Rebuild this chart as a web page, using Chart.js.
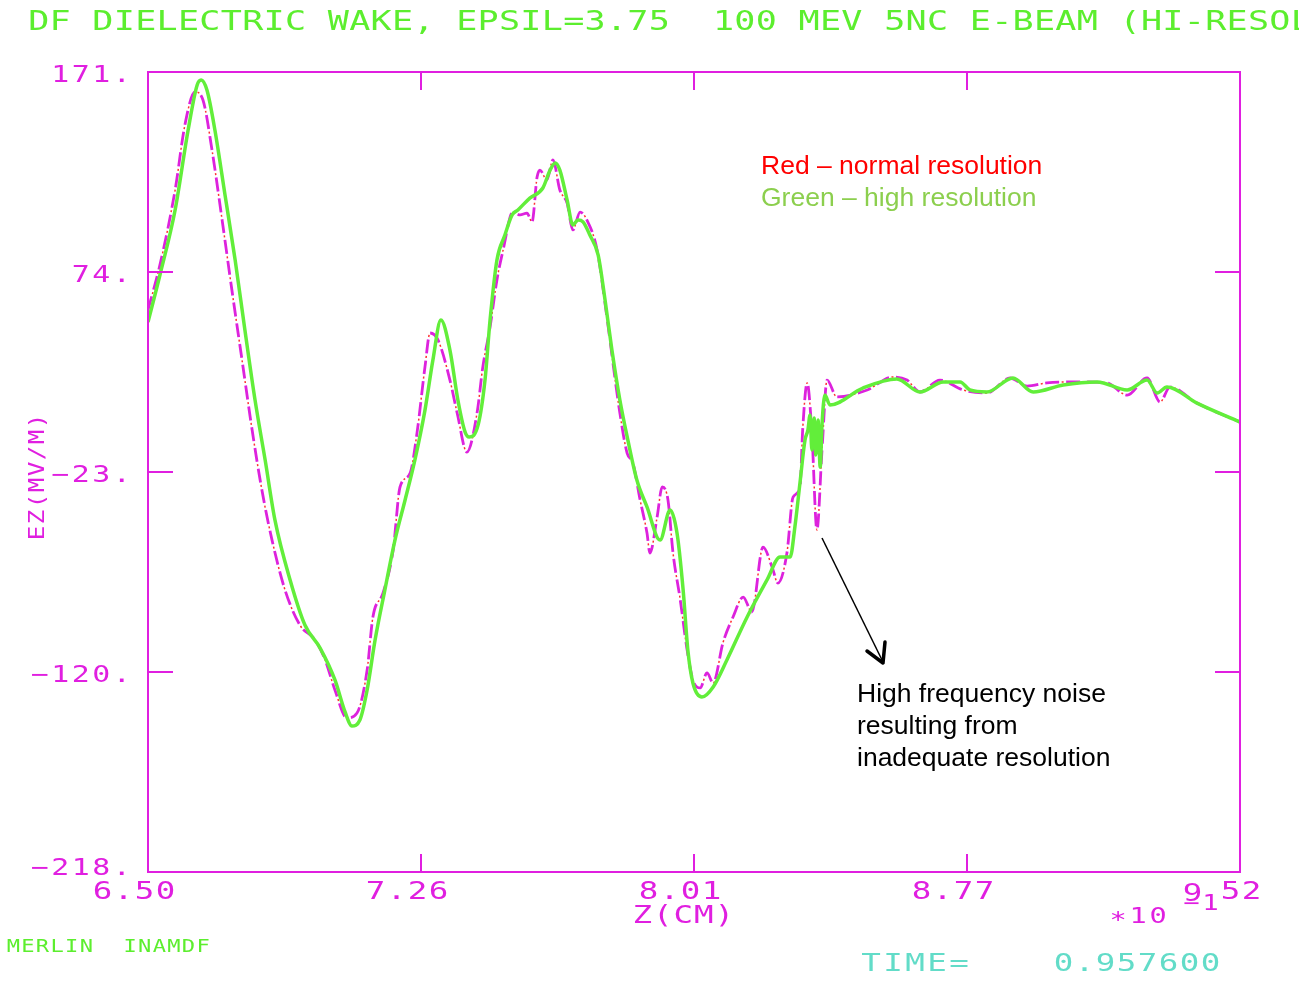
<!DOCTYPE html>
<html>
<head>
<meta charset="utf-8">
<title>DF dielectric wake</title>
<script src="https://cdn.jsdelivr.net/npm/chart.js@4"></script>
<style>
  html, body { margin: 0; padding: 0; background: #fff; }
  #wrap { width: 1299px; height: 981px; }
</style>
</head>
<body>
<div id="wrap"><canvas id="wake" width="1299" height="981"></canvas></div>
<script>
// high resolution run (green, solid)
const zHigh = [6.500, 6.533, 6.575, 6.611, 6.636, 6.647, 6.663, 6.685, 6.713, 6.741,
  6.768, 6.796, 6.824, 6.851, 6.893, 6.934, 6.976, 7.017, 7.045, 7.064,
  7.086, 7.106, 7.128, 7.155, 7.183, 7.211, 7.238, 7.266, 7.288, 7.310,
  7.335, 7.357, 7.377, 7.388, 7.413, 7.432, 7.446, 7.465, 7.487, 7.507,
  7.523, 7.556, 7.592, 7.612, 7.626, 7.639, 7.659, 7.675, 7.689, 7.703,
  7.722, 7.745, 7.764, 7.783, 7.805, 7.827, 7.852, 7.880, 7.916, 7.944,
  7.963, 7.980, 7.993, 8.007, 8.032, 8.063, 8.101, 8.157, 8.212, 8.248,
  8.276, 8.289, 8.303, 8.317, 8.325, 8.331, 8.336, 8.342, 8.347, 8.353,
  8.359, 8.364, 8.372, 8.386, 8.477, 8.571, 8.635, 8.699, 8.746, 8.773,
  8.820, 8.892, 8.948, 9.031, 9.125, 9.208, 9.263, 9.291, 9.318, 9.401, 9.520];
const ezHigh = [49.4, 72.3, 103.9, 142.8, 164.7, 167.1, 162.2, 142.8, 111.2, 79.6,
  45.5, 11.5, -17.7, -46.8, -76.0, -97.9, -109.1, -124.6, -140.2, -147.0,
  -144.1, -129.5, -105.2, -80.9, -56.6, -37.1, -17.7, 6.6, 31.0, 50.4,
  35.8, 11.5, -4.1, -6.5, -0.6, 21.2, 50.4, 79.6, 91.7, 101.5,
  103.9, 109.7, 114.6, 123.3, 126.8, 123.3, 108.8, 96.6, 99.0, 98.1,
  91.7, 82.0, 60.1, 35.8, 11.5, -7.9, -27.4, -40.5, -56.6, -42.0,
  -53.2, -80.9, -110.1, -126.1, -132.9, -128.0, -114.9, -94.0, -76.0, -64.8,
  -64.8, -50.2, -28.9, -7.9, -3.1, 4.2, -12.8, 2.8, -15.2, 1.8,
  -21.1, -0.6, 13.9, 9.1, 17.3, 21.7, 15.4, 20.3, 20.3, 16.4,
  15.4, 22.2, 15.4, 18.8, 20.3, 16.4, 21.2, 14.9, 17.8, 10.0, 0.8];

// normal resolution run (red / magenta dashed)
const zNormal = [6.500, 6.533, 6.575, 6.602, 6.630, 6.652, 6.677, 6.705, 6.732, 6.760,
  6.788, 6.815, 6.843, 6.879, 6.920, 6.962, 6.990, 7.017, 7.050, 7.078,
  7.106, 7.122, 7.150, 7.178, 7.197, 7.225, 7.244, 7.266, 7.280, 7.302,
  7.335, 7.355, 7.382, 7.410, 7.426, 7.446, 7.465, 7.482, 7.509, 7.529,
  7.548, 7.562, 7.576, 7.584, 7.603, 7.620, 7.639, 7.659, 7.675, 7.695,
  7.714, 7.742, 7.769, 7.805, 7.825, 7.841, 7.861, 7.880, 7.888, 7.908,
  7.922, 7.938, 7.952, 7.972, 7.991, 8.007, 8.027, 8.046, 8.063, 8.090,
  8.118, 8.146, 8.170, 8.201, 8.226, 8.242, 8.267, 8.284, 8.303, 8.311,
  8.323, 8.336, 8.350, 8.364, 8.378, 8.405, 8.489, 8.560, 8.599, 8.635,
  8.690, 8.754, 8.820, 8.884, 8.931, 8.986, 9.078, 9.152, 9.208, 9.263,
  9.299, 9.326, 9.401, 9.520];
const ezNormal = [55.3, 77.2, 113.6, 145.2, 161.3, 157.4, 133.1, 99.0, 65.0, 31.0,
  -3.1, -32.3, -56.6, -80.9, -97.9, -105.2, -114.9, -129.5, -143.1, -140.7,
  -119.8, -94.0, -82.3, -61.4, -30.8, -24.0, -4.5, 27.6, 44.1, 40.7,
  21.2, 5.2, -13.8, 5.2, 27.6, 47.0, 69.9, 84.4, 102.9, 101.5,
  102.4, 98.1, 119.9, 123.3, 118.5, 128.2, 113.6, 107.3, 94.2, 102.9,
  99.0, 84.4, 51.9, 5.2, -14.3, -19.1, -37.1, -53.2, -62.9, -45.4,
  -30.8, -37.1, -62.9, -85.7, -110.1, -124.6, -128.5, -121.2, -126.1, -106.6,
  -94.0, -84.3, -91.6, -60.0, -69.7, -77.5, -62.9, -35.7, -30.8, -1.6,
  19.8, -4.5, -51.7, -12.8, 21.2, 13.0, 16.4, 22.7, 21.2, 15.4,
  21.2, 16.4, 14.9, 22.2, 18.3, 19.8, 20.3, 19.8, 13.9, 22.2,
  10.5, 17.8, 10.0, 0.8];

const xTickVals = [6.50, 7.255, 8.01, 8.765, 9.52];
const xTickLabels = ["6.50", "7.26", "8.01", "8.77", "9.52"];
const yTickVals = [171, 73.75, -23.5, -120.75, -218];
const yTickLabels = ["171.", "74.", "\u221223.", "\u2212120.", "\u2212218."];

const titleText = "DF DIELECTRIC WAKE, EPSIL=3.75  100 MEV 5NC E-BEAM (HI-RESOLUTION)";
const legendLines = ["Red \u2013 normal resolution", "Green \u2013 high resolution"];
const noteLines = ["High frequency noise", "resulting from", "inadequate resolution"];

const MAGENTA = "#e01fe0";
const PLOT_FONT = "'DejaVu Sans Mono', monospace";

function pts(xs, ys) {
    return xs.map((x, i) => ({ x: x, y: ys[i] }));
}

// plotter style text: one stretched glyph per fixed-width cell
function plotterText(ctx, text, left, y, pitch, sx = 1.3) {
    ctx.textAlign = "center";
    for (let i = 0; i < text.length; i++) {
        ctx.save();
        ctx.translate(left + i * pitch + pitch / 2, y);
        ctx.scale(sx, 1);
        ctx.fillText(text[i], 0, 0);
        ctx.restore();
    }
}

const plotterFrame = {
    id: "plotterFrame",
    afterDraw(chart) {
        const ctx = chart.ctx;
        const a = chart.chartArea;
        const xs = chart.scales.x;
        const ys = chart.scales.y;
        ctx.save();

        // frame and inward ticks
        ctx.strokeStyle = MAGENTA;
        ctx.lineWidth = 2;
        ctx.strokeRect(a.left, a.top, a.right - a.left, a.bottom - a.top);
        ctx.beginPath();
        xTickVals.slice(1, -1).forEach(v => {
            const px = Math.round(xs.getPixelForValue(v));
            ctx.moveTo(px, a.top); ctx.lineTo(px, a.top + 18);
            ctx.moveTo(px, a.bottom); ctx.lineTo(px, a.bottom - 18);
        });
        yTickVals.slice(1, -1).forEach(v => {
            const py = Math.round(ys.getPixelForValue(v));
            ctx.moveTo(a.left, py); ctx.lineTo(a.left + 25, py);
            ctx.moveTo(a.right, py); ctx.lineTo(a.right - 25, py);
        });
        ctx.stroke();

        // tick labels
        ctx.fillStyle = MAGENTA;
        ctx.textBaseline = "middle";
        ctx.font = "23px " + PLOT_FONT;
        yTickLabels.forEach((t, i) => {
            const py = ys.getPixelForValue(yTickVals[i]);
            const dy = i === yTickVals.length - 1 ? -3 : 4;
            plotterText(ctx, t, 132 - t.length * 20.5, py + dy, 20.5);
        });
        ctx.font = "25px " + PLOT_FONT;
        xTickLabels.forEach((t, i) => {
            const px = xs.getPixelForValue(xTickVals[i]);
            if (i === xTickLabels.length - 1) {
                plotterText(ctx, "9", px - 58, a.bottom + 22, 21);
                plotterText(ctx, "52", px - 20, a.bottom + 20, 21);
            } else {
                plotterText(ctx, t, px - 56, a.bottom + 20, 21);
            }
        });
        // axis titles
        plotterText(ctx, "Z(CM)", 632, 916, 20.5);
        ctx.font = "22px " + PLOT_FONT;
        plotterText(ctx, "\u2217" + "10", 1108, 917, 20);
        ctx.font = "21px " + PLOT_FONT;
        plotterText(ctx, "\u22121", 1182, 905, 19);

        ctx.save();
        ctx.translate(38, 477);
        ctx.rotate(-Math.PI / 2);
        ctx.font = "22px " + PLOT_FONT;
        plotterText(ctx, "EZ(MV/M)", -64, 0, 16, 1.1);
        ctx.restore();

        // header and footer
        ctx.fillStyle = "#5cee2e";
        ctx.font = "27px " + PLOT_FONT;
        plotterText(ctx, titleText, 28, 23, 21.4);
        ctx.font = "17px " + PLOT_FONT;
        plotterText(ctx, "MERLIN  INAMDF", 6, 948, 14.6);
        ctx.fillStyle = "#62dcc8";
        ctx.font = "25px " + PLOT_FONT;
        plotterText(ctx, "TIME=", 860, 964, 22);
        plotterText(ctx, "0.957600", 1053, 964, 21);

        // annotations
        ctx.textAlign = "left";
        ctx.textBaseline = "alphabetic";
        ctx.font = "26.5px 'Liberation Sans', Arial, sans-serif";
        ctx.fillStyle = "#ff0000";
        ctx.fillText(legendLines[0], 761, 174);
        ctx.fillStyle = "#8ccf4e";
        ctx.fillText(legendLines[1], 761, 206);
        ctx.fillStyle = "#000";
        noteLines.forEach((t, i) => ctx.fillText(t, 857, 702 + i * 32));

        // arrow pointing at the noise
        ctx.strokeStyle = "#000";
        ctx.lineWidth = 1.5;
        ctx.beginPath();
        ctx.moveTo(822, 538);
        ctx.lineTo(883, 662);
        ctx.stroke();
        ctx.lineWidth = 3.5;
        ctx.lineCap = "round";
        ctx.lineJoin = "round";
        ctx.beginPath();
        ctx.moveTo(867, 651);
        ctx.lineTo(883, 663);
        ctx.lineTo(885, 642);
        ctx.stroke();

        ctx.restore();
    }
};

new Chart(document.getElementById("wake"), {
    type: "line",
    data: {
        datasets: [
            {
                label: "high resolution",
                data: pts(zHigh, ezHigh),
                borderColor: "#62ee3a",
                borderWidth: 3.5,
                pointRadius: 0,
                cubicInterpolationMode: "monotone",
                order: 0
            },
            {
                label: "normal resolution",
                data: pts(zNormal, ezNormal),
                borderColor: "#dd22dd",
                borderWidth: 2.8,
                borderDash: [14, 7],
                pointRadius: 0,
                cubicInterpolationMode: "monotone",
                order: 1
            },
            {
                label: "normal resolution (dots)",
                data: pts(zNormal, ezNormal),
                borderColor: "#ff3030",
                borderWidth: 1.5,
                borderDash: [2, 19],
                borderDashOffset: -16.5,
                pointRadius: 0,
                cubicInterpolationMode: "monotone",
                order: 2
            }
        ]
    },
    options: {
        responsive: false,
        animation: false,
        layout: { padding: { left: 148, right: 59, top: 72, bottom: 109 } },
        plugins: {
            legend: { display: false },
            tooltip: { enabled: false }
        },
        scales: {
            x: { type: "linear", min: 6.50, max: 9.52, display: false },
            y: { type: "linear", min: -218, max: 171, display: false }
        }
    },
    plugins: [plotterFrame]
});
</script>
</body>
</html>
